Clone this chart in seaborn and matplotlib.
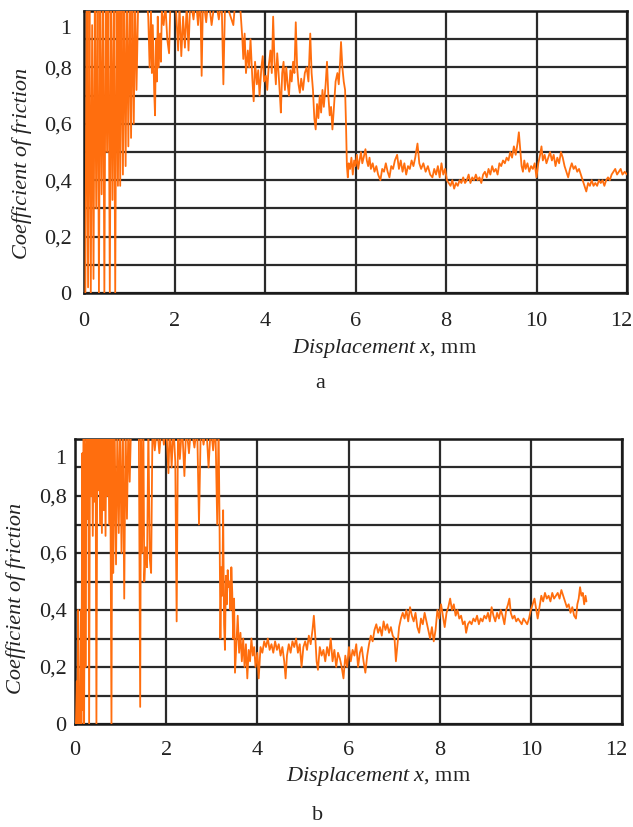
import numpy as np
import pandas as pd
import matplotlib
matplotlib.use("Agg")
import matplotlib.pyplot as plt
import matplotlib.transforms as mtransforms
import seaborn as sns

# ---------------- data ----------------
# Panel a
xa = [0.03, 0.06, 0.09, 0.12, 0.15, 0.18, 0.21, 0.24, 0.27, 0.30, 0.33, 0.36, 0.39, 0.42, 0.45, 0.48,
      0.51, 0.54, 0.57, 0.60, 0.63, 0.66, 0.69, 0.72, 0.75,
      0.78, 0.80, 0.83, 0.86, 0.89, 0.92, 0.95, 0.98, 1.01, 1.04, 1.07, 1.10, 1.13, 1.16,
      1.20, 1.30, 1.38,
      1.42, 1.45, 1.48, 1.50, 1.52, 1.55, 1.57, 1.59, 1.61, 1.63, 1.65, 1.68, 1.70, 1.72,
      1.76, 1.80, 1.84, 1.88, 1.91, 1.95,
      2.02, 2.08, 2.11, 2.15, 2.19, 2.23, 2.27, 2.31, 2.35,
      2.42, 2.47, 2.52, 2.57, 2.60, 2.63,
      2.70, 2.75, 2.82, 2.90, 2.98, 3.04, 3.08, 3.12, 3.20, 3.30, 3.35, 3.45, 3.50,
      3.52, 3.55, 3.58, 3.62, 3.65, 3.68, 3.72, 3.75, 3.78, 3.82, 3.85, 3.88, 3.92, 3.95, 3.98,
      4.02, 4.05, 4.08,
      4.12, 4.15, 4.18, 4.21, 4.24, 4.27, 4.30, 4.33, 4.35, 4.38, 4.41, 4.44, 4.47, 4.50, 4.53,
      4.56, 4.59, 4.62, 4.65, 4.68, 4.71, 4.74, 4.77, 4.80, 4.84, 4.88, 4.92, 4.96, 5.00, 5.03,
      5.06, 5.09, 5.12, 5.15, 5.18, 5.21, 5.24, 5.27, 5.30, 5.34, 5.37, 5.40, 5.43, 5.46, 5.49,
      5.52, 5.56, 5.60, 5.63, 5.66, 5.68, 5.71, 5.74, 5.77, 5.79, 5.81, 5.83, 5.85,
      5.88, 5.91, 5.94, 5.97, 6.00, 6.03, 6.06, 6.09, 6.12, 6.15, 6.18, 6.22, 6.25, 6.28, 6.31,
      6.34, 6.38, 6.42, 6.46, 6.50, 6.55, 6.59, 6.63, 6.67, 6.71, 6.75, 6.79, 6.83, 6.87, 6.92,
      6.96, 7.00, 7.04, 7.08, 7.12, 7.16, 7.20, 7.24, 7.28, 7.32, 7.37, 7.41, 7.45, 7.50, 7.55,
      7.60, 7.65, 7.70, 7.74, 7.78, 7.82, 7.86, 7.90, 7.94, 7.98, 8.02,
      8.06, 8.10, 8.14, 8.18, 8.22, 8.26, 8.30, 8.34, 8.38, 8.42, 8.46, 8.50, 8.54, 8.58, 8.62,
      8.66, 8.70, 8.74, 8.78,
      8.82, 8.86, 8.90, 8.94, 8.98, 9.02, 9.06, 9.10, 9.14, 9.18, 9.22, 9.26, 9.30, 9.34,
      9.38, 9.42, 9.46, 9.50, 9.54, 9.58, 9.61, 9.64,
      9.67, 9.70, 9.73, 9.76, 9.80, 9.84, 9.88, 9.92, 9.96, 10.00,
      10.04, 10.08, 10.11, 10.14, 10.18, 10.22, 10.26, 10.30, 10.34, 10.38, 10.42, 10.46, 10.50,
      10.54, 10.58,
      10.62, 10.66, 10.70, 10.74, 10.78, 10.82, 10.86, 10.90, 10.94, 10.98,
      11.02, 11.06, 11.10, 11.14, 11.18, 11.22, 11.26, 11.30, 11.34, 11.38, 11.42, 11.46, 11.50,
      11.54, 11.58,
      11.62, 11.66, 11.70, 11.74, 11.78, 11.82, 11.86, 11.90, 11.95, 12.00]
ya = [0.00, 1.05, 0.02, 1.05, 0.00, 0.95, 0.05, 1.05, 0.30, 1.05, 0.00, 1.05, 0.35, 1.05, 0.00, 1.05,
      0.50, 1.05, 0.00, 1.05, 0.33, 1.05, 0.00, 1.05, 0.38,
      1.05, 0.38, 1.05, 0.42, 1.05, 0.45, 1.05, 0.52, 1.05, 0.55, 1.05, 0.60, 1.05, 0.72,
      1.05, 1.03, 1.05,
      0.98, 0.80, 1.00, 0.78, 0.95, 0.72, 0.63, 0.90, 0.75, 0.98, 0.80, 0.92, 0.82, 1.00,
      0.95, 1.02, 0.90, 0.85, 1.03, 1.05,
      1.05, 0.86, 1.02, 0.84, 0.98, 0.87, 1.02, 0.86, 1.05,
      0.97, 1.05, 0.95, 1.05, 0.77, 1.05,
      0.96, 1.05, 0.95, 1.05, 0.97, 1.05, 0.74, 1.05, 1.00, 0.95, 1.05, 1.02, 0.90,
      0.83, 0.92, 0.78, 0.86, 0.80, 0.90, 0.76, 0.68, 0.82, 0.74, 0.79, 0.70, 0.80, 0.84, 0.75,
      0.77, 0.72, 0.80,
      0.86, 0.78, 0.98, 0.82, 0.74, 0.85, 0.78, 0.70, 0.64, 0.78, 0.82, 0.72, 0.80, 0.74, 0.70,
      0.79, 0.75, 0.82, 0.78, 0.96, 0.80, 0.74, 0.71, 0.76, 0.72, 0.78, 0.80, 0.75, 0.92, 0.78,
      0.72, 0.62, 0.58, 0.67, 0.62, 0.70, 0.64, 0.72, 0.66, 0.74, 0.82, 0.70, 0.63, 0.66, 0.58,
      0.65, 0.75, 0.78, 0.74, 0.82, 0.89, 0.80, 0.75, 0.72, 0.60, 0.45, 0.41, 0.46,
      0.44, 0.48, 0.42, 0.47, 0.45, 0.49, 0.44, 0.47, 0.50, 0.46, 0.48, 0.51, 0.47, 0.45, 0.48,
      0.44, 0.46, 0.43, 0.45, 0.42, 0.40, 0.44, 0.43, 0.46, 0.43, 0.41, 0.45, 0.44, 0.47, 0.49,
      0.44, 0.47, 0.43, 0.46, 0.42, 0.45, 0.44, 0.47, 0.45, 0.48, 0.53, 0.46, 0.44, 0.46, 0.43,
      0.45, 0.42, 0.41, 0.44, 0.42, 0.45, 0.41, 0.46, 0.42, 0.44, 0.40,
      0.39, 0.38, 0.40, 0.37, 0.39, 0.38, 0.40, 0.39, 0.41, 0.39, 0.40, 0.42, 0.39, 0.41, 0.40,
      0.42, 0.40, 0.41, 0.39,
      0.42, 0.43, 0.41, 0.44, 0.42, 0.45, 0.43, 0.44, 0.42, 0.46, 0.45, 0.47, 0.46, 0.48,
      0.47, 0.50, 0.48, 0.52, 0.49, 0.53, 0.57, 0.51,
      0.45, 0.43, 0.47, 0.44, 0.46, 0.43, 0.45, 0.44, 0.46, 0.41,
      0.46, 0.49, 0.52, 0.47, 0.49, 0.46, 0.48, 0.50, 0.47, 0.49, 0.45, 0.48, 0.46,
      0.50, 0.48,
      0.45, 0.43, 0.41, 0.44, 0.46, 0.44, 0.45, 0.43, 0.44, 0.42,
      0.40, 0.38, 0.36, 0.39, 0.38, 0.40, 0.38, 0.39, 0.38, 0.40, 0.39, 0.40, 0.38,
      0.40, 0.41,
      0.40, 0.42, 0.43, 0.44, 0.42, 0.43, 0.44, 0.42, 0.43, 0.42]

# Panel b
xb = [0.02, 0.04, 0.05, 0.07, 0.08, 0.10, 0.11, 0.13, 0.14, 0.16, 0.17, 0.19, 0.20, 0.22, 0.23, 0.25,
      0.27, 0.29, 0.31, 0.33, 0.35, 0.37, 0.39, 0.41, 0.43, 0.45, 0.47, 0.49, 0.51, 0.53, 0.55,
      0.57, 0.59, 0.61, 0.63, 0.65, 0.67, 0.69, 0.71, 0.73, 0.75, 0.77, 0.80, 0.82,
      0.84, 0.87, 0.90, 0.93, 0.96, 0.99, 1.02, 1.05, 1.08, 1.11, 1.14, 1.17, 1.20, 1.23,
      1.28, 1.34, 1.40, 1.43, 1.45, 1.47,
      1.50, 1.52, 1.55, 1.58, 1.61, 1.64, 1.67, 1.70,
      1.75, 1.80, 1.85, 1.90, 1.95,
      2.00, 2.05, 2.08, 2.12, 2.16, 2.20, 2.23, 2.26,
      2.30, 2.35, 2.40, 2.44, 2.50, 2.55, 2.62, 2.68, 2.72, 2.76,
      2.82, 2.88, 2.93, 2.98, 3.03, 3.08, 3.12, 3.15,
      3.17, 3.19, 3.21, 3.23, 3.25, 3.27, 3.29, 3.31, 3.33, 3.35, 3.37, 3.39, 3.41, 3.43, 3.45,
      3.47, 3.49,
      3.51, 3.54, 3.57, 3.60, 3.63, 3.66, 3.69, 3.72, 3.75, 3.78, 3.81, 3.84, 3.87, 3.90, 3.93,
      3.96, 4.00, 4.03,
      4.07, 4.11, 4.15, 4.19, 4.23, 4.27, 4.31, 4.35, 4.39, 4.43, 4.47, 4.51, 4.55, 4.59, 4.62,
      4.65,
      4.69, 4.73, 4.77, 4.81, 4.85, 4.89, 4.93, 4.97, 5.01, 5.05, 5.09, 5.13, 5.17, 5.21, 5.24,
      5.27, 5.30, 5.33,
      5.37, 5.41, 5.45, 5.49, 5.53, 5.57, 5.61, 5.65, 5.69, 5.73, 5.77, 5.81, 5.85, 5.89,
      5.93, 5.97, 6.01, 6.05, 6.09, 6.13, 6.17, 6.21, 6.25, 6.29, 6.33, 6.37, 6.41,
      6.45, 6.49, 6.53, 6.57, 6.61, 6.65, 6.69, 6.73, 6.77, 6.81, 6.85, 6.89, 6.93, 6.97, 7.01,
      7.04, 7.07,
      7.11, 7.15, 7.19, 7.23, 7.27, 7.31, 7.35, 7.39, 7.43, 7.47,
      7.51, 7.55, 7.59, 7.63, 7.67, 7.71, 7.75, 7.79, 7.83, 7.87, 7.91, 7.95, 7.99,
      8.03, 8.07, 8.11, 8.15, 8.19, 8.23, 8.27, 8.31, 8.35, 8.39, 8.43, 8.47, 8.51, 8.55, 8.58,
      8.62, 8.66, 8.70, 8.74, 8.78, 8.82, 8.86, 8.90, 8.94, 8.98, 9.02, 9.06, 9.10, 9.14,
      9.18, 9.22, 9.26, 9.30, 9.34, 9.38, 9.42, 9.46, 9.50, 9.53, 9.56,
      9.60, 9.64, 9.68, 9.72, 9.76, 9.80, 9.84, 9.88, 9.92, 9.96,
      10.00, 10.04, 10.08, 10.12, 10.15,
      10.19, 10.23, 10.27, 10.31, 10.35, 10.39, 10.43, 10.47, 10.51, 10.55, 10.59, 10.63, 10.67,
      10.71,
      10.75, 10.79, 10.83, 10.87, 10.91, 10.95, 10.99,
      11.02, 11.05, 11.08, 11.11, 11.14, 11.17, 11.20, 11.22]
yb = [0.00, 0.15, 0.00, 0.40, 0.00, 0.13, 0.00, 0.40, 0.00, 0.95, 0.05, 1.00, 0.00, 0.98, 0.20, 1.05,
      0.72, 1.05, 0.00, 1.05, 0.80, 1.05, 0.66, 1.05, 0.78, 1.05, 0.00, 1.05, 0.82, 1.05, 0.70,
      1.05, 0.67, 1.05, 0.75, 1.05, 0.66, 1.05, 0.80, 1.05, 0.70, 1.05, 0.00, 1.05,
      0.53, 1.05, 0.56, 1.05, 0.67, 1.05, 0.60, 1.05, 0.44, 1.05, 0.72, 1.05, 0.85, 1.05,
      1.05, 1.02, 1.05, 0.06, 1.05, 0.60,
      1.05, 0.50, 0.62, 0.55, 1.05, 0.58, 0.53, 1.05,
      0.96, 1.05, 0.95, 1.05, 0.98,
      1.05, 0.88, 1.05, 0.90, 1.05, 0.92, 0.36, 1.05,
      0.93, 1.05, 0.87, 1.05, 0.95, 1.05, 0.97, 1.05, 0.70, 1.05,
      0.98, 1.05, 0.90, 1.05, 0.96, 1.05, 0.70, 1.05,
      0.72, 0.30, 0.55, 0.45, 0.75, 0.35, 0.26, 0.52, 0.42, 0.54, 0.48, 0.50, 0.40, 0.55, 0.46,
      0.30, 0.44,
      0.18, 0.28, 0.38, 0.25, 0.32, 0.22, 0.30, 0.20, 0.28, 0.16, 0.26, 0.22, 0.30, 0.24, 0.27,
      0.20, 0.25, 0.16,
      0.27, 0.25, 0.29, 0.27, 0.30, 0.26, 0.28, 0.25, 0.29, 0.26, 0.28, 0.24, 0.27, 0.22, 0.16,
      0.24,
      0.28, 0.25, 0.29, 0.27, 0.30, 0.25, 0.28, 0.20, 0.27, 0.29, 0.26, 0.31, 0.28, 0.33, 0.38,
      0.31, 0.22, 0.19,
      0.27, 0.24, 0.26, 0.22, 0.27, 0.24, 0.30, 0.22, 0.26, 0.20, 0.25, 0.23, 0.20, 0.16,
      0.24, 0.20, 0.27, 0.22, 0.26, 0.24, 0.28, 0.20, 0.25, 0.27, 0.22, 0.18, 0.24,
      0.28, 0.31, 0.29, 0.33, 0.35, 0.32, 0.34, 0.31, 0.36, 0.33, 0.35, 0.32, 0.34, 0.31, 0.30,
      0.22, 0.27,
      0.34, 0.37, 0.39, 0.37, 0.40, 0.36, 0.41, 0.38, 0.36, 0.39,
      0.34, 0.32, 0.37, 0.35, 0.39, 0.36, 0.33, 0.30, 0.34, 0.29, 0.33, 0.40, 0.37,
      0.42, 0.38, 0.34, 0.39, 0.41, 0.44, 0.40, 0.42, 0.38, 0.40, 0.37, 0.38, 0.35, 0.36, 0.32,
      0.35, 0.36, 0.35, 0.37, 0.36, 0.38, 0.35, 0.37, 0.36, 0.38, 0.37, 0.39, 0.36, 0.41,
      0.38, 0.36, 0.39, 0.37, 0.40, 0.38, 0.35, 0.40, 0.42, 0.44, 0.39,
      0.37, 0.38, 0.36, 0.37, 0.36, 0.35, 0.37, 0.36, 0.35, 0.37,
      0.40, 0.42, 0.44, 0.40, 0.37,
      0.41, 0.45, 0.43, 0.46, 0.44, 0.45, 0.43, 0.46, 0.44, 0.45, 0.46, 0.44, 0.47,
      0.45,
      0.43, 0.41, 0.42, 0.39, 0.41, 0.38, 0.37,
      0.42, 0.44, 0.48, 0.45, 0.46, 0.42, 0.45, 0.43]

x_ticks = [0, 2, 4, 6, 8, 10, 12]
y_ticks = [0, 0.2, 0.4, 0.6, 0.8, 1.0]
y_tick_labels = ["0", "0,2", "0,4", "0,6", "0,8", "1"]
panel_names = ["a", "b"]

# ---------------- style ----------------
sns.set_style("white")
plt.rcParams["font.family"] = ["Liberation Serif", "DejaVu Serif"]
plt.rcParams["mathtext.fontset"] = "custom"
plt.rcParams["mathtext.rm"] = "Liberation Serif"
plt.rcParams["mathtext.it"] = "Liberation Serif:italic"

LINE = "#FF6E0E"
GRID = "#2a2a2a"
FS = 16

fig = plt.figure(figsize=(6.33, 8.27), dpi=100)
W, H = 633, 827


def px_axes(l, t, r, b):
    return fig.add_axes([l / W, 1 - b / H, (r - l) / W, (b - t) / H])


def shift(artist, dx_px, dy_px):
    off = mtransforms.ScaledTranslation(dx_px / 100, dy_px / 100, fig.dpi_scale_trans)
    artist.set_transform(artist.get_transform() + off)


ax_a = px_axes(84, 11, 627, 293)
ax_b = px_axes(75, 439, 622, 724)

df_a = pd.DataFrame({"x": xa, "y": ya})
df_b = pd.DataFrame({"x": xb, "y": yb})

settings = [
    (ax_a, df_a, 9, 14, 9, -6),
    (ax_b, df_b, 6, 12, 11, -6),
]
for ax, df, ypad, xpad, one_shift, twelve_shift in settings:
    sns.lineplot(data=df, x="x", y="y", ax=ax, sort=False, estimator=None,
                 color=LINE, lw=1.3, zorder=3)
    ax.set_xlim(0, 12)
    ax.set_ylim(0, 1.0)
    ax.set_xticks(x_ticks)
    ax.set_xticklabels([str(v) for v in x_ticks])
    ax.set_yticks(y_ticks)
    ax.set_yticks(np.arange(0.1, 1.0, 0.2), minor=True)
    ax.set_yticklabels(y_tick_labels)
    ax.tick_params(axis="both", which="both", length=0, labelsize=FS, colors="#222222")
    ax.tick_params(axis="y", pad=ypad)
    ax.tick_params(axis="x", pad=xpad)
    one = ax.yaxis.get_majorticklabels()[-1]
    one.set_va("top")
    shift(one, 0, -one_shift)
    shift(ax.xaxis.get_majorticklabels()[-1], twelve_shift, 0)
    ax.grid(True, which="both", axis="y", color=GRID, lw=1.6)
    ax.grid(True, which="major", axis="x", color=GRID, lw=1.6)
    ax.set_axisbelow(True)
    for s in ax.spines.values():
        s.set_visible(True)
        s.set_color("#1a1a1a")
        s.set_linewidth(1.8)
    ax.set_ylabel("Coefficient of friction", fontsize=FS, style="italic", color="#222222")
    ax.set_xlabel(r"$\mathit{Displacement\ x}$, mm", fontsize=FS, color="#222222")

ax_a.yaxis.set_label_coords((32 - 84) / 543, 0.46)
ax_b.yaxis.set_label_coords((26 - 75) / 547, 0.44)
ax_a.xaxis.set_label_coords((385 - 84) / 543, (293 - 349) / 282)
ax_b.xaxis.set_label_coords((379 - 75) / 547, (724 - 777) / 285)
for ax in (ax_a, ax_b):
    ax.xaxis.label.set_va("center")

fig.text(320 / W, 1 - 383 / H, panel_names[0], ha="center", va="center", fontsize=FS, color="#222222")
fig.text(318 / W, 1 - 815 / H, panel_names[1], ha="center", va="center", fontsize=FS, color="#222222")

fig.savefig("out.png", dpi=100, facecolor="white")
